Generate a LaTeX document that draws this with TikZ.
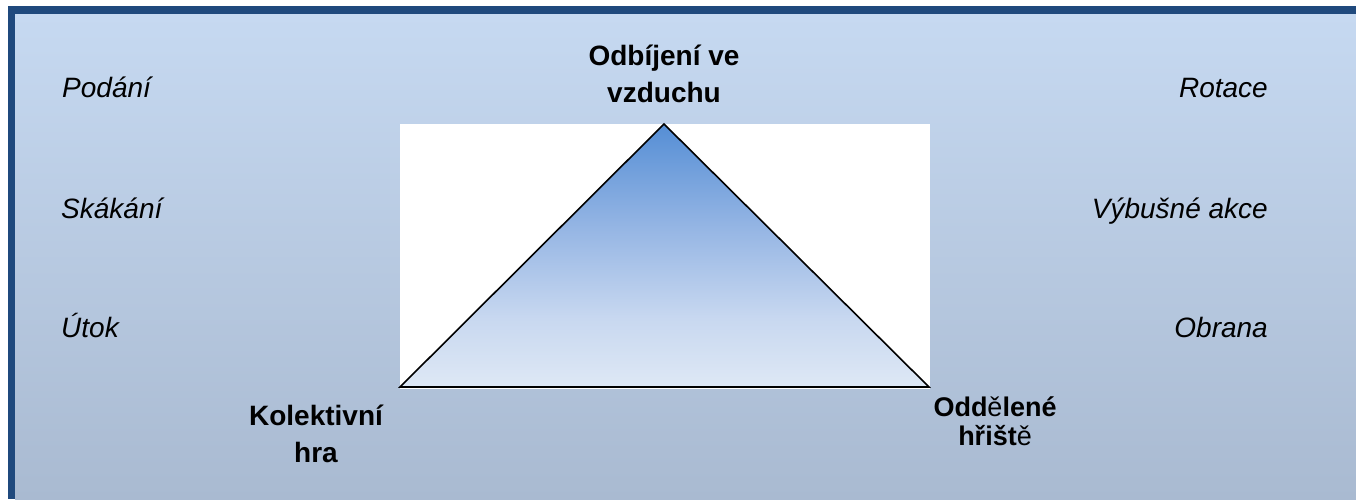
\documentclass[tikz,border=0pt]{standalone}
\usepackage{fontspec}
\setmainfont{Liberation Sans}
\usepackage{tikz}

\definecolor{frameblue}{RGB}{31,73,125}
\definecolor{bgtop}{RGB}{198,217,241}
\definecolor{bgbottom}{RGB}{169,186,209}
\definecolor{tritop}{RGB}{85,142,213}
\definecolor{trimid}{RGB}{150,182,228}
\definecolor{trilow}{RGB}{200,216,240}
\definecolor{tribottom}{RGB}{222,232,245}

\pgfdeclareverticalshading{trishade}{100bp}{color(0bp)=(tribottom); color(25bp)=(tribottom); color(38bp)=(trilow); color(55bp)=(trimid); color(75bp)=(tritop); color(100bp)=(tritop)}

\begin{document}
\begin{tikzpicture}[x=1pt, y=-1pt,
    side/.style={font=\fontsize{28}{37}\selectfont\itshape, inner sep=0pt},
    corner/.style={font=\fontsize{28}{37}\selectfont\bfseries, inner sep=0pt, align=center}]
        \useasboundingbox (0,0) rectangle (1356,499);

        % background and frame
        \fill[white] (0,0) rectangle (1356,499);
        \shade[top color=bgtop, bottom color=bgbottom] (15,14) rectangle (1356,499);
        \fill[frameblue] (8,6) rectangle (15,499);
        \fill[frameblue] (8,6) rectangle (1356,14);

        \fill[white] (400,124) rectangle (930,389);

        \coordinate (apex) at (664,124);
        \coordinate (bl) at (400,387);
        \coordinate (br) at (929,387);

        \shade[shading=trishade] (apex) -- (bl) -- (br) -- cycle;
        \draw[line width=1.6pt, line join=miter] (apex) -- (bl) -- (br) -- cycle;

        \node[side, anchor=base west] (podani) at (62,97) {Podání};
        \node[side, anchor=base west] (skakani) at (61,218) {Skákání};
        \node[side, anchor=base west] (utok) at (61,337) {Útok};

        \node[side, anchor=base east] (rotace) at (1268,97) {Rotace};
        \node[side, anchor=base east] (vybusne) at (1268,218) {Výbušné akce};
        \node[side, anchor=base east] (obrana) at (1268,337) {Obrana};

        \node[corner, anchor=base] (odbijeni) at (664,102) {Odbíjení ve\\vzduchu};
        \node[corner, anchor=base] (kolektivni) at (316,462) {Kolektivní\\hra};
        \node[corner, anchor=base, font=\fontsize{27}{28.5}\selectfont\bfseries] (oddelene) at (995,445) {Odd{\mdseries ě}lené\\hřišt{\mdseries ě}};
    \end{tikzpicture}
\end{document}
